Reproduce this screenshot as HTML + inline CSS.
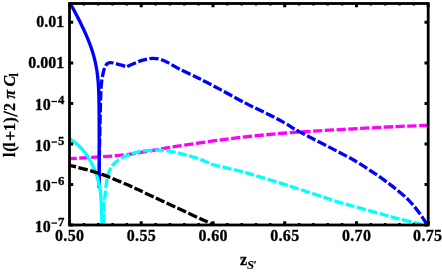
<!DOCTYPE html>
<html><head><meta charset="utf-8"><style>
html,body{margin:0;padding:0;background:#fff;}
svg{display:block;}
text{font-family:"Liberation Serif",serif;font-weight:bold;font-size:16px;fill:#000;stroke:#000;stroke-width:0.3px;}
</style></head><body>
<svg width="442" height="273" viewBox="0 0 442 273">
<rect width="442" height="273" fill="#fff"/>
<defs><clipPath id="c"><rect x="69.50" y="2.00" width="358.70" height="223.00"/></clipPath></defs>
<g clip-path="url(#c)">
<path d="M69.50 158.70 C74.58 158.40 90.87 157.53 100.00 156.90 C109.13 156.27 116.63 155.80 124.30 154.90 C131.97 154.00 137.38 152.92 146.00 151.50 C154.62 150.08 161.87 148.55 176.00 146.40 C190.13 144.25 212.47 140.83 230.80 138.60 C249.13 136.37 267.80 134.50 286.00 133.00 C304.20 131.50 321.67 130.67 340.00 129.60 C358.33 128.53 381.30 127.30 396.00 126.60 C410.70 125.90 422.83 125.60 428.20 125.40" fill="none" stroke="#ff00ff" stroke-width="3.3" stroke-dasharray="9.25 2.52" stroke-dashoffset="1.8"/>
<path d="M69.50 2.12 C69.75 2.57 70.50 3.91 71.00 4.81 C71.50 5.72 72.00 6.62 72.50 7.54 C73.00 8.46 73.50 9.38 74.00 10.30 C74.50 11.23 75.00 12.17 75.50 13.11 C76.00 14.06 76.50 15.01 77.00 15.97 C77.50 16.93 78.00 17.90 78.50 18.88 C79.00 19.86 79.50 20.85 80.00 21.85 C80.50 22.86 81.00 23.87 81.50 24.90 C82.00 25.93 82.50 26.97 83.00 28.04 C83.50 29.10 84.00 30.18 84.50 31.28 C85.00 32.38 85.50 33.49 86.00 34.64 C86.50 35.79 87.00 36.96 87.50 38.16 C88.00 39.37 88.50 40.60 89.00 41.88 C89.50 43.17 90.00 44.48 90.50 45.87 C91.00 47.26 91.50 48.68 92.00 50.22 C92.50 51.76 93.00 53.33 93.50 55.10 C94.00 56.87 94.50 58.66 95.00 60.85 C95.50 63.04 96.17 66.48 96.50 68.24 C96.83 70.00 96.88 70.57 97.00 71.40 C97.12 72.23 97.17 72.56 97.25 73.20 C97.33 73.83 97.42 74.49 97.50 75.20 C97.58 75.91 97.67 76.64 97.75 77.46 C97.83 78.27 97.92 79.12 98.00 80.08 C98.08 81.05 98.17 82.05 98.25 83.24 C98.33 84.44 98.42 85.65 98.50 87.27 C98.58 88.88 98.67 90.31 98.75 92.94 C98.83 95.57 98.95 100.78 99.00 103.06 C99.05 105.33 99.03 105.18 99.05 106.59 C99.07 108.01 99.09 110.00 99.10 111.55 C99.11 113.10 99.12 114.03 99.13 115.89 C99.14 117.74 99.15 120.14 99.16 122.67 C99.17 125.20 99.18 128.26 99.18 131.05 C99.19 133.84 99.18 133.76 99.19 139.42 C99.20 145.08 99.23 156.90 99.25 165.00 C99.27 173.10 99.29 184.17 99.30 188.00" fill="none" stroke="#0000ff" stroke-width="3.3"/>
<path d="M99.35 188.00 C99.36 182.50 99.33 163.50 99.40 155.00 C99.47 146.50 99.55 146.17 99.75 137.00 C99.95 127.83 100.32 108.83 100.60 100.00 C100.88 91.17 100.92 88.75 101.40 84.00 C101.88 79.25 102.77 74.60 103.50 71.50 C104.23 68.40 105.08 66.75 105.80 65.40 C106.52 64.05 107.03 63.85 107.80 63.40 C108.57 62.95 109.28 62.73 110.40 62.70 C111.52 62.67 112.82 62.83 114.50 63.20 C116.18 63.57 118.50 64.30 120.50 64.90 C122.50 65.50 125.50 66.48 126.50 66.80 C127.85 66.22 132.18 64.33 134.60 63.30 C137.02 62.27 138.93 61.32 141.00 60.60 C143.07 59.88 144.97 59.38 147.00 59.00 C149.03 58.62 151.03 58.27 153.20 58.30 C155.37 58.33 157.53 58.48 160.00 59.20 C162.47 59.92 164.57 60.85 168.00 62.60 C171.43 64.35 175.93 67.32 180.60 69.70 C185.27 72.08 191.77 74.85 196.00 76.90 C200.23 78.95 201.83 79.83 206.00 82.00 C210.17 84.17 214.33 86.33 221.00 89.90 C227.67 93.47 237.72 99.13 246.00 103.40 C254.28 107.67 264.03 112.13 270.70 115.50 C277.37 118.87 281.17 120.87 286.00 123.60 C290.83 126.33 290.70 127.05 299.70 131.90 C308.70 136.75 330.23 147.55 340.00 152.70 C349.77 157.85 352.20 159.13 358.30 162.80 C364.40 166.47 371.27 171.07 376.60 174.70 C381.93 178.33 386.43 181.68 390.30 184.60 C394.17 187.52 396.78 189.67 399.80 192.20 C402.82 194.73 405.87 197.27 408.40 199.80 C410.93 202.33 412.93 204.87 415.00 207.40 C417.07 209.93 419.12 212.62 420.80 215.00 C422.48 217.38 423.98 219.95 425.10 221.70 C426.22 223.45 427.10 224.87 427.50 225.50" fill="none" stroke="#0000ff" stroke-width="3.3" stroke-dasharray="9.3 2.48" stroke-dashoffset="-5.0"/>
<path d="M69.50 138.50 C70.19 139.00 72.34 140.50 73.65 141.50 C74.95 142.50 76.21 143.50 77.35 144.50 C78.49 145.50 79.50 146.50 80.48 147.50 C81.46 148.50 82.35 149.50 83.20 150.50 C84.06 151.50 84.86 152.50 85.61 153.50 C86.36 154.50 87.05 155.50 87.70 156.50 C88.35 157.50 88.94 158.50 89.51 159.50 C90.08 160.50 90.61 161.50 91.12 162.50 C91.63 163.50 92.11 164.50 92.58 165.50 C93.06 166.50 93.53 167.50 93.97 168.50 C94.42 169.50 94.85 170.50 95.25 171.50 C95.66 172.50 96.02 173.50 96.37 174.50 C96.73 175.50 97.05 176.50 97.36 177.50 C97.67 178.50 97.96 179.50 98.23 180.50 C98.49 181.50 98.72 182.50 98.94 183.50 C99.17 184.50 99.39 185.50 99.58 186.50 C99.78 187.50 99.96 188.50 100.10 189.50 C100.25 190.50 100.36 191.50 100.47 192.50 C100.58 193.50 100.67 194.50 100.77 195.50 C100.86 196.50 100.94 197.50 101.02 198.50 C101.10 199.50 101.17 200.50 101.23 201.50 C101.29 202.50 101.33 203.50 101.38 204.50 C101.42 205.50 101.46 206.50 101.50 207.50 C101.53 208.50 101.57 209.50 101.61 210.50 C101.64 211.50 101.67 212.50 101.70 213.50 C101.73 214.50 101.76 215.50 101.79 216.50 C101.81 217.50 101.83 218.50 101.85 219.50 C101.87 220.50 101.88 221.58 101.89 222.50 C101.90 223.42 101.90 224.58 101.90 225.00" fill="none" stroke="#00ffff" stroke-width="3.3"/>
<path d="M103.30 224.50 C103.38 221.25 103.52 209.75 103.80 205.00 C104.08 200.25 104.62 199.27 105.00 196.00 C105.38 192.73 105.73 188.40 106.10 185.40 C106.47 182.40 106.75 180.13 107.20 178.00 C107.65 175.87 108.17 174.33 108.80 172.60 C109.43 170.87 110.08 169.12 111.00 167.60 C111.92 166.08 113.05 164.80 114.30 163.50 C115.55 162.20 116.97 160.87 118.50 159.80 C120.03 158.73 121.15 158.17 123.50 157.10 C125.85 156.03 129.68 154.37 132.60 153.40 C135.52 152.43 137.95 151.82 141.00 151.30 C144.05 150.78 148.07 150.50 150.90 150.30 C153.73 150.10 155.55 150.05 158.00 150.10 C160.45 150.15 162.60 150.20 165.60 150.60 C168.60 151.00 172.83 151.83 176.00 152.50 C179.17 153.17 181.02 153.63 184.60 154.60 C188.18 155.57 193.83 157.07 197.50 158.30 C201.17 159.53 204.32 161.00 206.60 162.00 C208.88 163.00 210.43 163.92 211.20 164.30 C213.48 164.83 220.10 166.35 224.90 167.50 C229.70 168.65 235.82 170.13 240.00 171.20 C244.18 172.27 241.70 171.42 250.00 173.90 C258.30 176.38 275.72 181.62 289.80 186.10 C303.88 190.58 324.47 197.60 334.50 200.80 C344.53 204.00 343.08 203.35 350.00 205.30 C356.92 207.25 368.50 210.42 376.00 212.50 C383.50 214.58 388.65 216.10 395.00 217.80 C401.35 219.50 409.60 221.53 414.10 222.70 C418.60 223.87 420.68 224.45 422.00 224.80" fill="none" stroke="#00ffff" stroke-width="3.3" stroke-dasharray="9.25 2.45" stroke-dashoffset="-1.4"/>
<path d="M69.50 165.30 C74.42 166.63 89.22 170.00 99.00 173.30 C108.78 176.60 120.37 181.75 128.20 185.10 C136.03 188.45 138.03 189.68 146.00 193.40 C153.97 197.12 165.22 202.38 176.00 207.40 C186.78 212.42 204.53 220.63 210.70 223.50 C216.87 226.37 212.62 224.42 213.00 224.60" fill="none" stroke="#000" stroke-width="3.3" stroke-dasharray="9.4 2.5" stroke-dashoffset="2.5"/>
</g>
<path d="M69.50 225.00 v-3.80 M69.50 3.50 v3.80 M141.24 225.00 v-3.80 M141.24 3.50 v3.80 M212.98 225.00 v-3.80 M212.98 3.50 v3.80 M284.72 225.00 v-3.80 M284.72 3.50 v3.80 M356.46 225.00 v-3.80 M356.46 3.50 v3.80 M428.20 225.00 v-3.80 M428.20 3.50 v3.80 M69.50 225.00 h3.7 M428.20 225.00 h-3.7 M69.50 184.47 h3.7 M428.20 184.47 h-3.7 M69.50 143.94 h3.7 M428.20 143.94 h-3.7 M69.50 103.41 h3.7 M428.20 103.41 h-3.7 M69.50 62.88 h3.7 M428.20 62.88 h-3.7 M69.50 22.35 h3.7 M428.20 22.35 h-3.7" stroke="#000" stroke-width="3.0" fill="none"/><path d="M83.85 225.00 v-2.10 M83.85 3.50 v2.10 M98.20 225.00 v-2.10 M98.20 3.50 v2.10 M112.54 225.00 v-2.10 M112.54 3.50 v2.10 M126.89 225.00 v-2.10 M126.89 3.50 v2.10 M155.59 225.00 v-2.10 M155.59 3.50 v2.10 M169.94 225.00 v-2.10 M169.94 3.50 v2.10 M184.28 225.00 v-2.10 M184.28 3.50 v2.10 M198.63 225.00 v-2.10 M198.63 3.50 v2.10 M227.33 225.00 v-2.10 M227.33 3.50 v2.10 M241.68 225.00 v-2.10 M241.68 3.50 v2.10 M256.02 225.00 v-2.10 M256.02 3.50 v2.10 M270.37 225.00 v-2.10 M270.37 3.50 v2.10 M299.07 225.00 v-2.10 M299.07 3.50 v2.10 M313.42 225.00 v-2.10 M313.42 3.50 v2.10 M327.76 225.00 v-2.10 M327.76 3.50 v2.10 M342.11 225.00 v-2.10 M342.11 3.50 v2.10 M370.81 225.00 v-2.10 M370.81 3.50 v2.10 M385.16 225.00 v-2.10 M385.16 3.50 v2.10 M399.50 225.00 v-2.10 M399.50 3.50 v2.10 M413.85 225.00 v-2.10 M413.85 3.50 v2.10" stroke="#000" stroke-width="2.4" fill="none"/>
<rect x="69.50" y="3.50" width="358.70" height="221.50" fill="none" stroke="#000" stroke-width="2.8"/>
<g style="will-change:transform;transform:translateZ(0)">
<text x="69.67" y="240.6" text-anchor="middle" style="letter-spacing:0.35px">0.50</text>
<text x="141.41" y="240.6" text-anchor="middle" style="letter-spacing:0.35px">0.55</text>
<text x="213.15" y="240.6" text-anchor="middle" style="letter-spacing:0.35px">0.60</text>
<text x="284.89" y="240.6" text-anchor="middle" style="letter-spacing:0.35px">0.65</text>
<text x="356.63" y="240.6" text-anchor="middle" style="letter-spacing:0.35px">0.70</text>
<text x="427.77" y="240.6" text-anchor="middle" style="letter-spacing:0.35px">0.75</text>
<text x="64.3" y="27.05" text-anchor="end">0.01</text>
<text x="64.3" y="67.58" text-anchor="end">0.001</text>
<text x="50.7" y="110.31" text-anchor="end">10</text><rect x="51.5" y="100.86" width="5.5" height="1.3"/><text x="64.3" y="104.41" text-anchor="end" style="font-size:12.7px">4</text>
<text x="50.7" y="150.84" text-anchor="end">10</text><rect x="51.5" y="141.39" width="5.5" height="1.3"/><text x="64.3" y="144.94" text-anchor="end" style="font-size:12.7px">5</text>
<text x="50.7" y="191.37" text-anchor="end">10</text><rect x="51.5" y="181.92" width="5.5" height="1.3"/><text x="64.3" y="185.47" text-anchor="end" style="font-size:12.7px">6</text>
<text x="50.7" y="231.90" text-anchor="end">10</text><rect x="51.5" y="222.45" width="5.5" height="1.3"/><text x="64.3" y="226.00" text-anchor="end" style="font-size:12.7px">7</text>
<text x="240" y="265.4">z<tspan dy="4.0" style="font-size:12.7px;font-style:italic;stroke-width:0.1px">S</tspan><tspan dy="-0.4" dx="-0.9" style="font-size:12.7px;font-style:italic;stroke-width:0">′</tspan></text>
<path transform="translate(14.5 157) rotate(-90)" d="M16.75 -4.25 H25.45 M21.1 -8.6 V0.1" stroke="#000" stroke-width="1.5" fill="none"/>
<line transform="translate(14.5 157) rotate(-90)" x1="40.7" y1="3.1" x2="45.5" y2="-10.9" stroke="#000" stroke-width="1.4"/>
<text transform="translate(14.5 157) rotate(-90)"><tspan x="0.00" y="0" style="">l</tspan><tspan x="5.20" y="0" style="">(</tspan><tspan x="10.30" y="0" style="">l</tspan><tspan x="25.95" y="0" style="">1</tspan><tspan x="34.60" y="0" style="">)</tspan><tspan x="46.00" y="0" style="">2</tspan><tspan x="58.25" y="0" style="font-style:italic">π</tspan><tspan x="70.45" y="0" style="font-style:italic">C</tspan><tspan x="80.5" y="3.3" style="font-size:11.5px">l</tspan></text>
</g>
</svg>
</body></html>
